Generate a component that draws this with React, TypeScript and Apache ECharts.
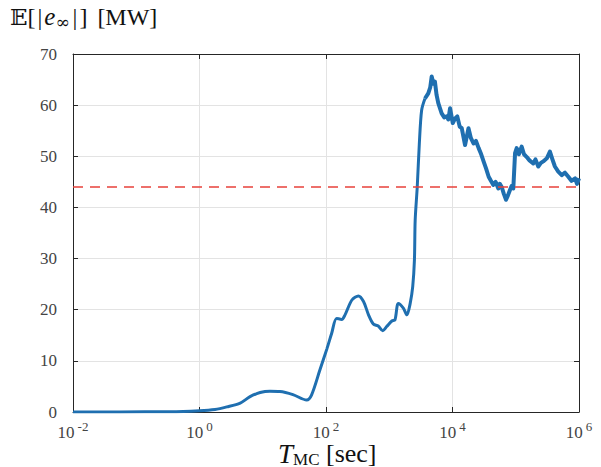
import React, { useEffect, useRef } from "react";
import * as echarts from "echarts";

// T_MC [sec]
const tValues = [
  0.01, 0.055, 0.34, 1.0, 1.76, 2.7, 4.4, 6.3, 9.1, 13, 18.7, 30, 49.5, 59, 80, 103, 123, 147, 177, 200,
  257, 326, 392, 470, 560, 670, 790, 910, 1100, 1230, 1390, 1670, 1900, 2140, 2350, 2500,
  2570, 2770, 2990, 3250, 3670, 4140, 4450, 4690, 5000, 5270, 5600, 5960, 6740, 7400, 8100, 8600, 9150,
  10100, 11000, 11900, 13000, 14000, 15800, 17900, 19500, 21500, 23500, 25900, 28000, 31000, 34000,
  37300, 40500, 44200, 48000, 53000, 56000, 60000, 65000, 70200, 75000, 81000, 86000, 91500, 97500,
  103500, 112000, 124000, 135000, 148000, 165000, 189000, 205000, 227000, 250000, 272000, 310000,
  347000, 380000, 416000, 470000, 533000, 600000, 678000, 760000, 868000, 930000, 1000000,
];
// E[|e_inf|] [MW]
const eValues = [
  0, 0.02, 0.05, 0.25, 0.5, 1.0, 1.75, 3.0, 3.8, 4.05, 4.0, 3.4, 2.35, 3.3, 8.2, 12.3, 15.4, 18.3, 18.1, 19.0,
  21.9, 22.7, 21.6, 19.0, 17.2, 16.8, 15.9, 16.7, 17.8, 18.0, 21.2, 20.3, 19.0, 21.2, 24.5, 29.7,
  37.5, 44, 52.5, 59, 61.3, 62.3, 63.5, 65.6, 64.2, 64.6, 62.0, 60.4, 58.4, 57.6, 57.8, 57.2, 59.4,
  56.5, 57.4, 57.8, 55.8, 55.5, 52.2, 55.5, 53.6, 52.5, 53.0, 51.6, 50.6, 49.0, 47.6,
  46.0, 45.2, 44.4, 45.0, 43.7, 44.6, 44.0, 42.6, 41.5, 42.3, 43.4, 44.2, 43.7, 50.6,
  51.6, 50.4, 51.9, 50.4, 49.9, 49.2, 48.6, 49.4, 48.0, 48.7, 49.0, 49.6,
  50.9, 49.4, 48.0, 47.0, 46.3, 46.8, 46.0, 45.2, 45.7, 44.6, 45.7,
];
const referenceLevel = 44;
const yTicks = { min: 0, max: 70, interval: 10 };
const xRange = { min: 0.01, max: 1000000 };
const noisyFrom = 3670; // T where the curve turns jagged

const serif = "Liberation Serif";
const labelColor = "#444444";

export default function App() {
  const ref = useRef<HTMLDivElement>(null);
  useEffect(() => {
    if (!ref.current) return;
    const chart = echarts.init(ref.current, null, { renderer: "svg" });
    const all = tValues.map((t, i) => [t, eValues[i]]);
    const smoothPart = all.filter((d) => d[0] <= noisyFrom);
    const noisyPart = all.filter((d) => d[0] >= noisyFrom);
    const axisColor = "#262626";
    const lineColor = "#1f6fb0";
    chart.setOption({
      animation: false,
      backgroundColor: "#fff",
      grid: { left: 73, right: 22, top: 54, bottom: 55, containLabel: false },
      xAxis: [
        {
          type: "log",
          logBase: 100,
          min: xRange.min,
          max: xRange.max,
          position: "bottom",
          axisLine: { onZero: false, lineStyle: { color: axisColor, width: 1 } },
          axisTick: { inside: true, length: 5, lineStyle: { color: axisColor } },
          minorTick: { show: false },
          splitLine: { show: true, lineStyle: { color: "#e3e3e3", width: 1 } },
          axisLabel: {
            margin: 8,
            formatter: (v: number) => `{b|10}{s|${Math.round(Math.log10(v))}}`,
            rich: {
              b: { fontFamily: serif, fontSize: 17, color: labelColor },
              s: { fontFamily: serif, fontSize: 13, color: labelColor, padding: [0, 0, 12, 3] },
            },
          },
        },
        {
          type: "log",
          logBase: 100,
          min: xRange.min,
          max: xRange.max,
          position: "top",
          axisLine: { onZero: false, lineStyle: { color: axisColor, width: 1 } },
          axisTick: { inside: true, length: 5, lineStyle: { color: axisColor } },
          splitLine: { show: false },
          axisLabel: { show: false },
        },
      ],
      yAxis: [
        {
          type: "value",
          min: yTicks.min,
          max: yTicks.max,
          interval: yTicks.interval,
          position: "left",
          axisLine: { show: true, onZero: false, lineStyle: { color: axisColor, width: 1 } },
          axisTick: { show: true, inside: true, length: 5, lineStyle: { color: axisColor } },
          splitLine: { show: true, lineStyle: { color: "#e3e3e3", width: 1 } },
          axisLabel: { margin: 16, fontFamily: serif, fontSize: 17, color: labelColor },
        },
        {
          type: "value",
          min: yTicks.min,
          max: yTicks.max,
          interval: yTicks.interval,
          position: "right",
          axisLine: { show: true, onZero: false, lineStyle: { color: axisColor, width: 1 } },
          axisTick: { show: true, inside: true, length: 5, lineStyle: { color: axisColor } },
          splitLine: { show: false },
          axisLabel: { show: false },
        },
      ],
      series: [
        {
          type: "line",
          data: smoothPart,
          showSymbol: false,
          symbol: "none",
          smooth: 0.3,
          lineStyle: { color: lineColor, width: 3 },
          markLine: {
            silent: true,
            symbol: "none",
            label: { show: false },
            lineStyle: { color: "#e8423b", width: 1.5, type: [10, 7] },
            data: [{ yAxis: referenceLevel }],
          },
          z: 3,
        },
        {
          type: "line",
          data: noisyPart,
          showSymbol: false,
          symbol: "none",
          smooth: false,
          lineStyle: { color: lineColor, width: 4, join: "round" },
          z: 3,
        },
      ],
      graphic: [
        {
          type: "text",
          left: 10,
          top: 4,
          style: {
            text: "{bb|𝔼}{n|[}{bar||}{i|e}{sub|∞}{bar||}{n|]}{gap| }{n|[MW]}",
            rich: {
              bb: { fontFamily: "DejaVu Serif, DejaVu Sans, serif", fontSize: 23, fill: "#111" },
              n: { fontFamily: serif, fontSize: 24, fill: "#111" },
              bar: { fontFamily: serif, fontSize: 24, fill: "#111", padding: [0, 2, 0, 2] },
              i: { fontFamily: serif, fontSize: 25, fontStyle: "italic", fill: "#111" },
              sub: { fontFamily: "DejaVu Serif, serif", fontSize: 17, fill: "#111", padding: [10, 1, 0, 0] },
              gap: { fontFamily: serif, fontSize: 24, width: 10 },
            },
          },
        },
        {
          type: "text",
          left: 278,
          top: 440,
          style: {
            text: "{i|T}{sub|MC}{n| [sec]}",
            rich: {
              i: { fontFamily: serif, fontSize: 27, fontStyle: "italic", fill: "#111" },
              sub: { fontFamily: serif, fontSize: 17, fill: "#111", padding: [11, 0, 0, 0] },
              n: { fontFamily: serif, fontSize: 26, fill: "#111" },
            },
          },
        },
      ],
    });
    return () => chart.dispose();
  }, []);
  return <div ref={ref} style={{ width: 601, height: 467, position: "absolute", left: 0, top: 0 }} />;
}
